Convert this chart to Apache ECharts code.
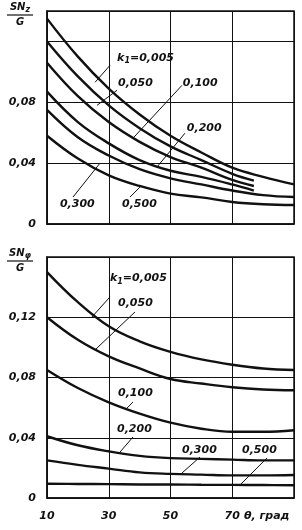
<!DOCTYPE html>
<html><head><meta charset="utf-8">
<script src="https://cdn.jsdelivr.net/npm/echarts@6/dist/echarts.min.js"></script>
<style>html,body{margin:0;padding:0;background:#fff}#c{width:302px;height:530px}</style>
</head><body><div id="c"></div>
<script>
// ---- data ----
const kNames = ['0,005', '0,050', '0,100', '0,200', '0,300', '0,500'];
const xFull = [10, 20, 30, 40, 50, 60, 70, 80, 90];
const xShort = [10, 20, 30, 40, 50, 60, 70, 77];
const xTickLabels = ['10', '30', '50', '70'];
const xName = 'θ, град';

// top chart: S·Nz / G
const topK005 = [0.135, 0.110, 0.089, 0.072, 0.058, 0.047, 0.037, 0.031, 0.026];
const topK050 = [0.120, 0.097, 0.078, 0.063, 0.051, 0.042, 0.033, 0.0285];
const topK100 = [0.106, 0.084, 0.067, 0.054, 0.044, 0.037, 0.029, 0.025];
const topK200 = [0.087, 0.067, 0.053, 0.042, 0.035, 0.031, 0.026, 0.022];
const topK300 = [0.075, 0.057, 0.045, 0.036, 0.030, 0.026, 0.022, 0.019, 0.0177];
const topK500 = [0.058, 0.043, 0.032, 0.025, 0.020, 0.0175, 0.0145, 0.013, 0.0125];

// bottom chart: S·Nφ / G
const botK005 = [0.150, 0.130, 0.114, 0.104, 0.097, 0.092, 0.0885, 0.086, 0.085];
const botK050 = [0.120, 0.105, 0.094, 0.086, 0.079, 0.076, 0.0735, 0.072, 0.0715];
const botK100 = [0.085, 0.073, 0.0635, 0.056, 0.050, 0.046, 0.044, 0.044, 0.045];
const botK200 = [0.041, 0.035, 0.031, 0.028, 0.0265, 0.026, 0.0255, 0.025, 0.025];
const botK300 = [0.025, 0.022, 0.0195, 0.017, 0.016, 0.0155, 0.015, 0.015, 0.0153];
const botK500 = [0.0095, 0.0093, 0.0092, 0.009, 0.009, 0.0088, 0.0087, 0.0086, 0.0085];

// annotation anchors (data coordinates): [x, y]
const topLabelAt = [[32.7, 0.1092], [33.0, 0.0925], [54.0, 0.0925], [55.3, 0.0630], [14.2, 0.0131], [34.3, 0.0131]];
const topLeaders = [[[30.4, 0.1043], [25.55, 0.0931]], [[32.67, 0.0879], [26.19, 0.078]], [[53.7, 0.0911], [37.85, 0.0564]],
  [[54.7, 0.0597], [45.6, 0.0374]], [[18.42, 0.0177], [27.17, 0.040]], [[36.88, 0.0177], [40.12, 0.0243]]];
const botLabelAt = [[30.4, 0.1457], [33.0, 0.1295], [33.0, 0.0694], [32.67, 0.0458], [53.72, 0.0319], [73.16, 0.0319]];
const botLeaders = [[[30.4, 0.1335], [24.57, 0.1202]], [[38.5, 0.1235], [25.55, 0.0983]], [[37.85, 0.0637], [35.26, 0.0584]],
  [[37.85, 0.0405], [33.64, 0.0305]], [[59.55, 0.0272], [53.72, 0.0166]], [[81.26, 0.0266], [72.5, 0.0086]]];

// ---- chart ----
const INK = '#111';
const FONT = {fontFamily: 'DejaVu Sans', fontStyle: 'italic', fontWeight: 'bold', fontSize: 11, color: INK};
const pair = (xs, ys) => ys.map((v, i) => [xs[i], v]);
const fmt = v => v === 0 ? '0' : v.toFixed(2).replace('.', ',');

function curve(idx, xs, ys) {
  return {type: 'line', xAxisIndex: idx, yAxisIndex: idx, data: pair(xs, ys), smooth: 0.4, showSymbol: false,
    lineStyle: {color: INK, width: 2.4}, silent: true, z: 3};
}
function leader(idx, seg) {
  return {type: 'line', xAxisIndex: idx, yAxisIndex: idx, data: seg, showSymbol: false,
    lineStyle: {color: INK, width: 1}, silent: true, z: 4};
}
function labels(idx, pts) {
  return {type: 'scatter', xAxisIndex: idx, yAxisIndex: idx, symbolSize: 0, silent: true, z: 5,
    itemStyle: {opacity: 1, color: INK},
    data: pts.map((p, i) => [p[0], p[1], i]),
    label: {show: true, position: 'right', distance: 0, opacity: 1, ...FONT,
      formatter: p => p.data[2] === 0 ? '{t|k}{s|1}{t|=' + kNames[0] + '}' : '{t|' + kNames[p.data[2]] + '}',
      rich: {t: {...FONT}, s: {...FONT, fontSize: 8, verticalAlign: 'bottom', padding: [6, 0, 0, 0]}}}};
}
function yName(sub) {
  return {
    name: '{t|SN}{s|' + sub + '}\n{l| }\n{t|G}',
    nameLocation: 'end', nameGap: 10,
    nameTextStyle: {align: 'center', verticalAlign: 'top', padding: [0, 54, 0, 0],
      rich: {t: {...FONT, fontSize: 10, lineHeight: 12, align: 'center'},
             s: {...FONT, fontSize: 8, verticalAlign: 'bottom', padding: [5, 0, 0, 0], align: 'center'},
             l: {width: 26, height: 1.2, lineHeight: 2, fontSize: 1, backgroundColor: INK, align: 'center'}}}
  };
}
const grids = [
  {left: 47, right: 8, top: 11, height: 213, show: true, borderColor: INK, borderWidth: 1.5},
  {left: 47, right: 8, top: 257, height: 241, show: true, borderColor: INK, borderWidth: 1.5}
];
const xAxisBase = {type: 'value', min: 10, max: 90, interval: 20,
  axisLine: {show: true, lineStyle: {color: INK, width: 1.5}}, axisTick: {show: false},
  splitLine: {show: true, lineStyle: {color: INK, width: 1}}};
const yAxisBase = (max, hideAbove) => ({type: 'value', min: 0, max: max, interval: 0.04,
  axisLine: {show: true, lineStyle: {color: INK, width: 1.5}}, axisTick: {show: false},
  splitLine: {show: true, lineStyle: {color: INK, width: 1}},
  axisLabel: {...FONT, fontSize: 11, margin: 11, formatter: v => v > hideAbove ? '' : fmt(v)}});

const series = [
  curve(0, xFull, topK005), curve(0, xShort, topK050), curve(0, xShort, topK100),
  curve(0, xShort, topK200), curve(0, xFull, topK300), curve(0, xFull, topK500),
  curve(1, xFull, botK005), curve(1, xFull, botK050), curve(1, xFull, botK100),
  curve(1, xFull, botK200), curve(1, xFull, botK300), curve(1, xFull, botK500),
  ...topLeaders.map(s => leader(0, s)), ...botLeaders.map(s => leader(1, s)),
  labels(0, topLabelAt), labels(1, botLabelAt)
];

const chart = echarts.init(document.getElementById('c'), null, {renderer: 'canvas'});
chart.setOption({
  animation: false,
  backgroundColor: '#fff',
  grid: grids,
  xAxis: [
    {...xAxisBase, gridIndex: 0, axisLabel: {show: false}},
    {...xAxisBase, gridIndex: 1,
      axisLabel: {...FONT, fontSize: 11, margin: 13, formatter: v => xTickLabels.indexOf(String(v)) >= 0 ? String(v) : ''},
      name: xName, nameLocation: 'end', nameGap: -50,
      nameTextStyle: {...FONT, fontSize: 11, align: 'left', verticalAlign: 'top', padding: [13, 0, 0, 0]}}
  ],
  yAxis: [
    {...yAxisBase(0.14, 0.1), gridIndex: 0, ...yName('z')},
    {...yAxisBase(0.16, 0.13), gridIndex: 1, ...yName('φ')}
  ],
  series: series
});
</script></body></html>
